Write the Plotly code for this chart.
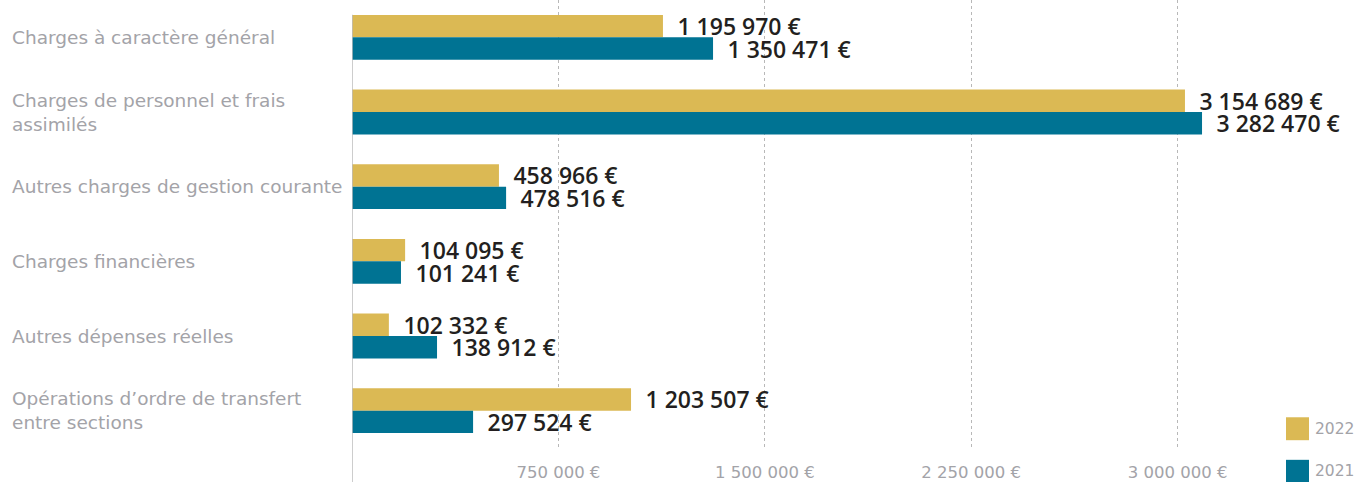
import plotly.graph_objects as go

categories = [
    "Charges à caractère général",
    "Charges de personnel et frais<br>assimilés",
    "Autres charges de gestion courante",
    "Charges financières",
    "Autres dépenses réelles",
    "Opérations d’ordre de transfert<br>entre sections",
]
series_names = ["2022", "2021"]
bars_2022 = [1130000, 3027000, 534000, 193000, 134000, 1014000]
bars_2021 = [1312000, 3089000, 560000, 178000, 309000, 440000]
labels_2022 = ["1 195 970 €", "3 154 689 €", "458 966 €", "104 095 €", "102 332 €", "1 203 507 €"]
labels_2021 = ["1 350 471 €", "3 282 470 €", "478 516 €", "101 241 €", "138 912 €", "297 524 €"]
tick_values = [750000, 1500000, 2250000, 3000000]
tick_labels = ["750 000 €", "1 500 000 €", "2 250 000 €", "3 000 000 €"]
colors = ["#dbb954", "#007393"]

VFONT = "Open Sans"
GFONT = "DejaVu Sans"
GRAY = "#a3a3a8"

fig = go.Figure()
for name, vals, labs, col in zip(series_names, [bars_2022, bars_2021], [labels_2022, labels_2021], colors):
    fig.add_trace(go.Bar(
        y=categories, x=vals, name=name, orientation="h",
        marker=dict(color=col, line=dict(width=0)),
        text=labs, texttemplate="\u2002%{text}", textposition="outside", constraintext="none",
        textfont=dict(family=VFONT, size=23, color="#231f20", weight=600),
        cliponaxis=False, showlegend=False, hoverinfo="skip",
    ))

annotations = []
for c in categories:
    annotations.append(dict(
        xref="paper", yref="y", x=-0.3726, y=c, xanchor="left", yanchor="middle",
        text=c, align="left", showarrow=False,
        font=dict(family=GFONT, size=18.5, color=GRAY),
    ))

shapes = [dict(type="line", xref="x", yref="paper", x0=0, x1=0, y0=0.967, y1=-0.08,
               line=dict(color="#bdbdbd", width=1.5))]

# manual legend
leg_y = [0.043, -0.052]
for name, col, yy in zip(series_names, colors, leg_y):
    shapes.append(dict(type="rect", xref="paper", yref="paper",
                       x0=1.0174, x1=1.0425, y0=yy - 0.0256, y1=yy + 0.0256,
                       fillcolor=col, line=dict(width=0)))
    annotations.append(dict(xref="paper", yref="paper", x=1.047, y=yy, xanchor="left",
                            yanchor="middle", text=name, showarrow=False,
                            font=dict(family=GFONT, size=15.5, color=GRAY)))

fig.update_layout(
    width=1365, height=482,
    margin=dict(l=352, r=95, t=0, b=32),
    barmode="group", bargap=0.4, bargroupgap=0,
    plot_bgcolor="white", paper_bgcolor="white",
    annotations=annotations, shapes=shapes,
    xaxis=dict(range=[0, 3336000], tickvals=tick_values, ticktext=tick_labels,
               showgrid=True, gridcolor="#b8b8b8", griddash="dot", gridwidth=1,
               zeroline=False, showline=False, ticks="",
               tickfont=dict(family=GFONT, size=16.5, color=GRAY), ticklabelstandoff=12),
    yaxis=dict(autorange="reversed", showticklabels=False, showgrid=False,
               zeroline=False, showline=False, ticks=""),
)

fig.write_html("out.html", post_script="document.body.style.margin='0';",
               config={"displayModeBar": False})
